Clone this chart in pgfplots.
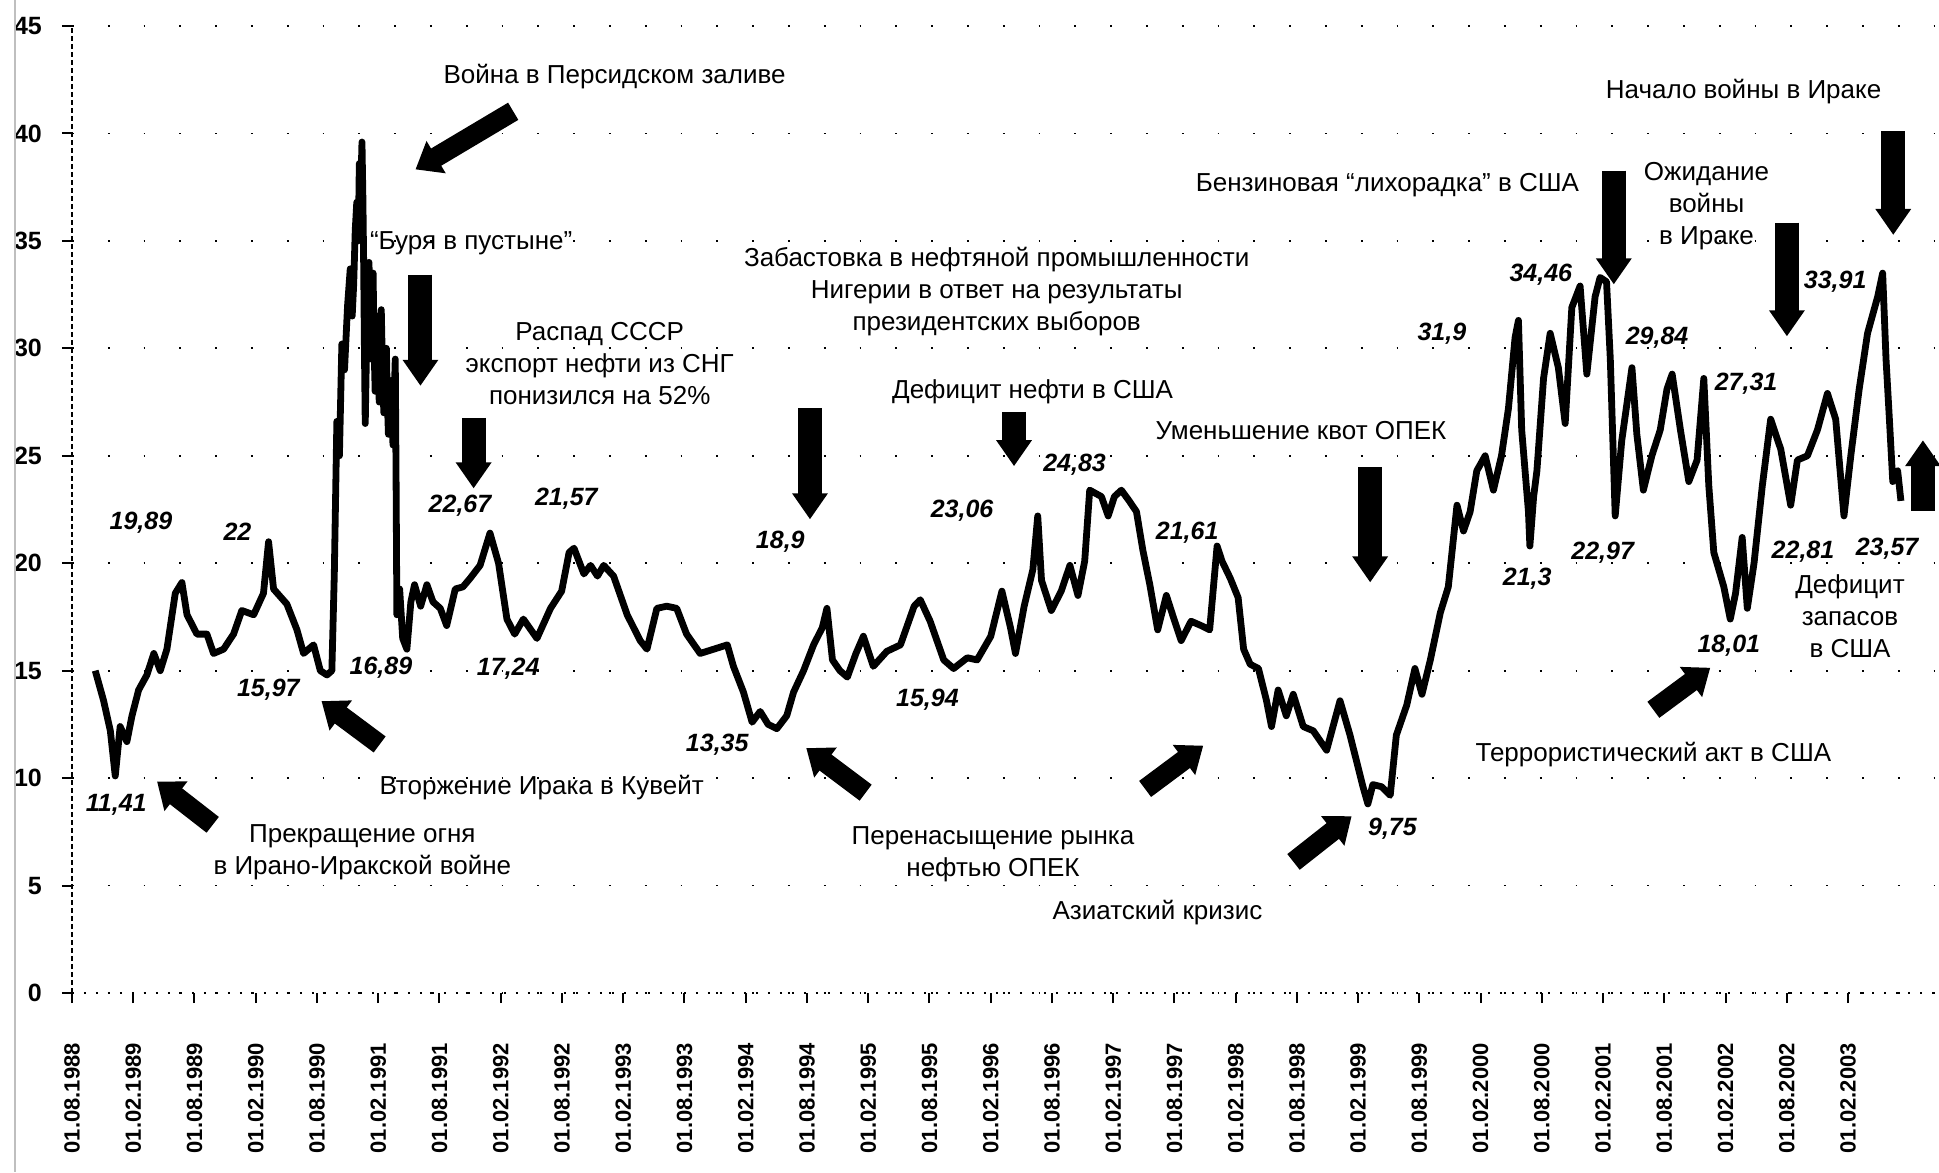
\documentclass[border=0pt]{standalone}
\usepackage{fontspec}
\setmainfont{Liberation Sans}
\usepackage{pgfplots}
\pgfplotsset{compat=1.18}
\usetikzlibrary{arrows.meta}
\newcommand{\ann}{\fontsize{13}{16}\selectfont}
\newcommand{\val}{\fontsize{12.5}{14}\selectfont\bfseries\itshape}
\pgfplotstableread{
m v
2.28 15.0
3.10 13.6
3.76 12.2
4.24 10.1
4.72 12.4
5.38 11.7
5.88 12.9
6.53 14.1
7.34 14.8
8.02 15.8
8.65 15.0
9.30 16.0
10.12 18.6
10.77 19.1
11.27 17.6
12.24 16.7
13.22 16.7
13.87 15.8
14.85 16.0
15.83 16.7
16.64 17.8
17.80 17.6
18.76 18.6
19.26 21.0
19.75 18.8
21.05 18.1
22.04 16.9
22.69 15.8
23.67 16.2
24.33 15.0
24.98 14.8
25.46 15.0
25.70 19.5
25.95 26.6
26.20 25.0
26.44 30.2
26.70 29.0
27.00 32.0
27.26 33.7
27.45 31.5
27.60 33.0
27.75 35.5
27.90 36.8
28.05 35.0
28.15 38.6
28.30 37.5
28.41 39.6
28.50 37.0
28.57 34.2
28.65 30.0
28.73 26.5
28.82 29.0
28.90 31.5
29.00 30.0
29.10 34.0
29.20 31.0
29.30 29.5
29.40 32.0
29.50 33.5
29.60 30.0
29.70 28.0
29.80 30.5
29.90 31.5
30.00 29.0
30.10 27.5
30.20 30.0
30.30 31.8
30.42 29.0
30.55 27.0
30.68 29.5
30.80 30.0
30.90 27.5
31.00 26.0
31.12 28.0
31.25 28.5
31.35 26.5
31.45 25.5
31.55 27.5
31.67 29.5
31.75 24.0
31.83 17.6
32.10 18.8
32.40 16.5
32.81 16.0
33.20 18.2
33.56 19.0
34.16 18.0
34.77 19.0
35.37 18.2
36.08 17.9
36.71 17.1
37.55 18.8
38.30 18.9
39.01 19.3
39.98 19.9
40.95 21.4
41.79 20.0
42.61 17.4
43.37 16.7
44.22 17.4
45.55 16.5
46.88 17.9
47.97 18.7
48.70 20.5
49.18 20.7
50.15 19.5
50.80 19.9
51.48 19.4
52.09 19.9
53.06 19.4
54.39 17.6
55.66 16.4
56.33 16.0
57.30 17.9
58.27 18.0
59.24 17.9
60.21 16.7
61.54 15.8
62.87 16.0
64.20 16.2
64.80 15.2
65.78 14.0
66.63 12.6
67.42 13.1
68.20 12.5
69.05 12.3
70.02 12.9
70.69 14.0
71.67 15.0
72.65 16.2
73.50 17.0
73.96 17.9
74.50 15.5
75.23 15.0
75.96 14.7
76.80 15.8
77.53 16.6
78.50 15.2
79.83 15.9
81.16 16.2
82.50 18.0
83.10 18.3
84.07 17.3
85.40 15.5
86.37 15.1
87.71 15.6
88.67 15.5
90.01 16.6
91.10 18.7
91.94 17.0
92.43 15.8
93.28 18.0
94.13 19.7
94.61 22.2
94.98 19.2
95.94 17.8
96.91 18.7
97.76 19.9
98.55 18.5
99.21 20.1
99.70 23.4
100.85 23.1
101.51 22.2
102.12 23.1
102.80 23.4
103.57 22.9
104.28 22.4
104.91 20.6
105.59 19.0
106.36 16.9
107.21 18.5
107.82 17.6
108.66 16.4
109.63 17.3
110.60 17.1
111.45 16.9
112.18 20.8
112.66 20.1
113.47 19.3
114.24 18.4
114.78 16.0
115.42 15.3
116.23 15.1
117.02 13.6
117.51 12.4
118.16 14.1
118.96 12.9
119.64 13.9
120.62 12.4
121.60 12.2
122.91 11.3
124.22 13.6
125.20 12.0
126.47 9.6
126.95 8.8
127.44 9.7
128.29 9.6
129.14 9.2
129.74 12.0
130.76 13.4
131.56 15.1
132.25 13.9
133.07 15.5
134.05 17.7
134.83 18.9
135.68 22.7
136.32 21.5
136.97 22.4
137.62 24.3
138.44 25.0
139.25 23.4
140.04 25.0
140.72 27.2
141.37 30.5
141.70 31.3
142.02 26.2
142.68 22.4
142.82 20.8
143.19 23.1
143.51 24.3
144.16 28.6
144.81 30.7
145.61 29.1
146.28 26.5
146.93 31.9
147.74 32.9
148.40 28.8
149.21 32.4
149.70 33.3
150.33 33.1
150.70 29.5
151.18 22.2
151.82 25.7
152.82 29.1
153.30 26.0
153.94 23.4
154.77 25.0
155.59 26.2
156.25 28.1
156.76 28.8
157.57 26.2
158.39 23.8
159.20 24.8
159.86 28.6
160.35 23.6
160.84 20.5
161.82 18.9
162.45 17.4
162.97 18.6
163.62 21.2
164.12 17.9
164.78 20.0
165.59 23.6
166.41 26.7
167.40 25.3
168.37 22.7
169.03 24.8
170.01 25.0
170.99 26.2
171.97 27.9
172.78 26.7
173.59 22.2
174.26 25.0
175.08 28.1
175.90 30.7
176.89 32.4
177.38 33.5
177.71 29.5
178.04 26.7
178.37 23.8
178.85 24.3
179.17 22.9
}\oil
\begin{document}
\begin{tikzpicture}
\begin{axis}[
  at={(0,0)}, anchor=south west,
  scale only axis, width=933.5pt, height=483.5pt,
  xmin=0, xmax=182.9, ymin=0, ymax=45,
  axis x line*=bottom, axis y line*=left,
  x axis line style={-, black, line width=0.9pt, dash pattern=on 1pt off 5pt},
  y axis line style={-, black, line width=0.9pt, dash pattern=on 2.5pt off 1.5pt},
  ytick={0,5,...,45}, xtick={0,6,...,174},
  xticklabels={01.08.1988,01.02.1989,01.08.1989,01.02.1990,01.08.1990,01.02.1991,01.08.1991,01.02.1992,01.08.1992,01.02.1993,01.08.1993,01.02.1994,01.08.1994,01.02.1995,01.08.1995,01.02.1996,01.08.1996,01.02.1997,01.08.1997,01.02.1998,01.08.1998,01.02.1999,01.08.1999,01.02.2000,01.08.2000,01.02.2001,01.08.2001,01.02.2002,01.08.2002,01.02.2003},
  tick align=outside, major tick length=5pt,
  tick style={black, line width=1pt},
  ymajorgrids, major grid style={black, line width=0.9pt, dash pattern=on 0.9pt off 17pt},
  /pgf/number format/assume math mode=true,
  yticklabel style={font=\fontsize{12.5}{12.5}\selectfont\bfseries},
  xticklabel style={font=\fontsize{11}{11}\selectfont\bfseries, rotate=90, anchor=east},
  xticklabel shift=16.6pt, yticklabel shift=6.5pt,
  clip=false,
]
\addplot[black, line width=3.4pt, line join=round] table[x=m, y=v] {\oil};
\end{axis}
\begin{scope}[x=0.6183pt, y=-0.6183pt, shift={(-58.2,-803)}]
\draw[gray!50, line width=0.8pt] (12,0) -- (12,948);
% annotations
\node[font=\ann] at (497,62) {Война в Персидском заливе};
\node[font=\ann] at (381,197) {“Буря в пустыне”};
\node[font=\ann, align=center] at (485,294) {Распад СССР\\экспорт нефти из СНГ\\понизился на 52\%};
\node[font=\ann, align=center] at (806,236) {Забастовка в нефтяной промышленности\\Нигерии в ответ на результаты\\президентских выборов};
\node[font=\ann] at (835,317) {Дефицит нефти в США};
\node[font=\ann] at (1052,348) {Уменьшение квот ОПЕК};
\node[font=\ann] at (1122,150) {Бензиновая “лихорадка” в США};
\node[font=\ann] at (1410,74) {Начало войны в Ираке};
\node[font=\ann, align=center] at (1380,167) {Ожидание\\войны\\в Ираке};
\node[font=\ann, align=center] at (1496,498) {Дефицит\\запасов\\в США};
\node[font=\ann] at (1337,610) {Террористический акт в США};
\node[font=\ann] at (936,738) {Азиатский кризис};
\node[font=\ann, align=center] at (803,691) {Перенасыщение рынка\\нефтью ОПЕК};
\node[font=\ann] at (438,637) {Вторжение Ирака в Кувейт};
\node[font=\ann, align=center] at (293,689) {Прекращение огня\\в Ирано-Иракской войне};
% values
\node[font=\val] at (94,651) {11,41};
\node[font=\val] at (114,423) {19,89};
\node[font=\val] at (192,430) {22};
\node[font=\val] at (217,558) {15,97};
\node[font=\val] at (308,540) {16,89};
\node[font=\val] at (372,409) {22,67};
\node[font=\val] at (411,541) {17,24};
\node[font=\val] at (458,403) {21,57};
\node[font=\val] at (580,602) {13,35};
\node[font=\val] at (631,438) {18,9};
\node[font=\val] at (750,566) {15,94};
\node[font=\val] at (778,413) {23,06};
\node[font=\val] at (869,376) {24,83};
\node[font=\val] at (960,431) {21,61};
\node[font=\val] at (1126,670) {9,75};
\node[font=\val] at (1166,270) {31,9};
\node[font=\val] at (1235,468) {21,3};
\node[font=\val] at (1246,222) {34,46};
\node[font=\val] at (1296,447) {22,97};
\node[font=\val] at (1340,273) {29,84};
\node[font=\val] at (1412,310) {27,31};
\node[font=\val] at (1398,522) {18,01};
\node[font=\val] at (1484,228) {33,91};
\node[font=\val] at (1458,446) {22,81};
\node[font=\val] at (1526,444) {23,57};
% arrows
\tikzset{darr/.style={line width=12pt, line cap=butt, -{Triangle[length=13pt,width=17pt]}},
         sarr/.style={line width=10pt, line cap=butt, -{Triangle[length=12pt,width=18pt]}}}
\draw[sarr] (415,90) -- (336,137);
\draw[darr] (340,222) -- (340,312);
\draw[darr] (383,338) -- (383,395);
\draw[darr] (655,330) -- (655,420);
\draw[darr] (820,333) -- (820,377);
\draw[darr] (1108,378) -- (1108,471);
\draw[darr] (1305,138) -- (1305,230);
\draw[darr] (1445,180) -- (1445,272);
\draw[darr] (1531,106) -- (1531,190);
\draw[darr] (1555,413) -- (1555,356);
\draw[sarr] (172,667) -- (127,632);
\draw[sarr] (307,602) -- (260,567);
\draw[sarr] (700,641) -- (652,605);
\draw[sarr] (926,638) -- (973,603);
\draw[sarr] (1046,697) -- (1093,660);
\draw[sarr] (1337,574) -- (1383,540);
\pgfresetboundingbox
\useasboundingbox (0,0) rectangle (1568,948);
\end{scope}
\end{tikzpicture}
\end{document}
